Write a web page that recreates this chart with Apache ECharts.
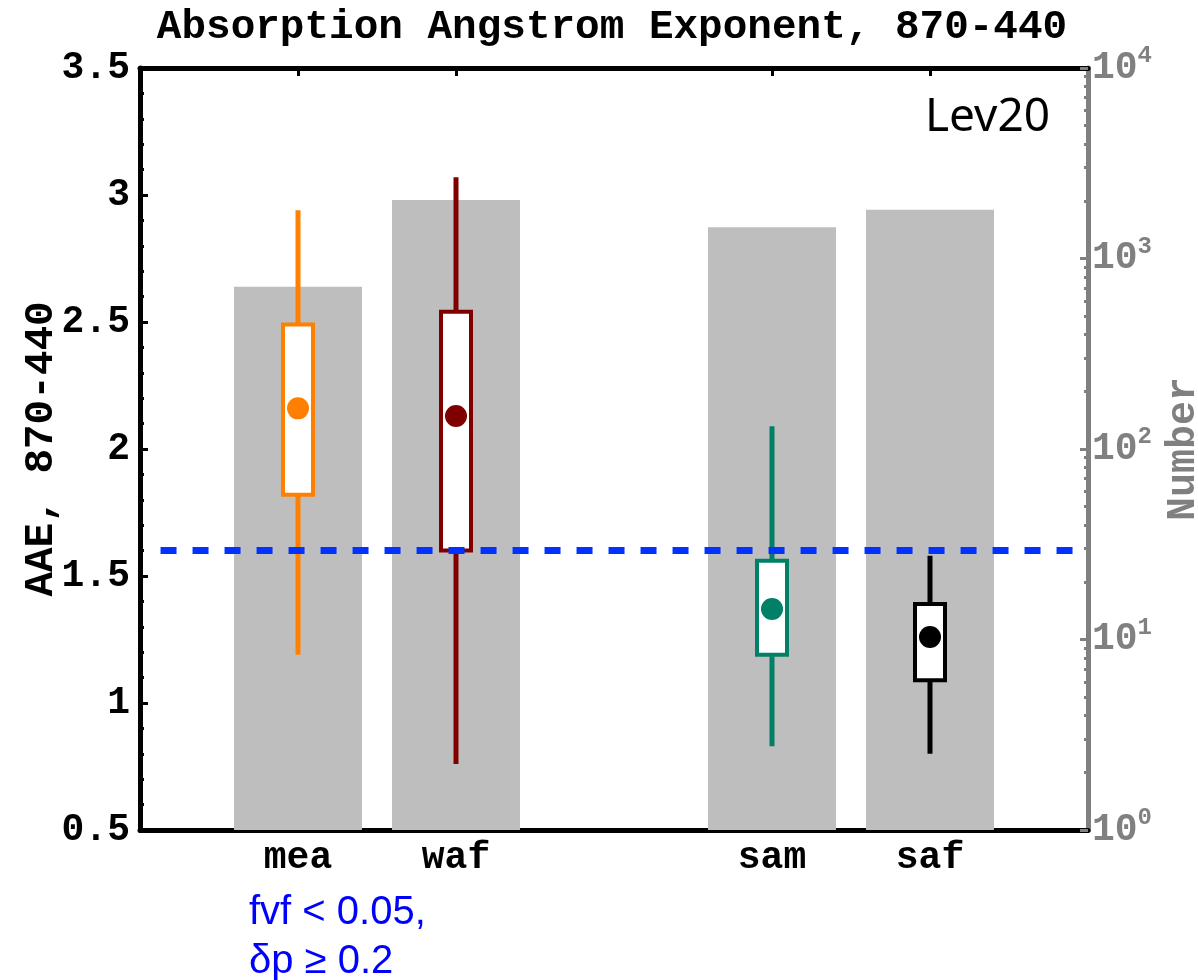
<!DOCTYPE html>
<html>
<head>
<meta charset="utf-8">
<script src="https://cdn.jsdelivr.net/npm/echarts@6/dist/echarts.min.js"></script>
<style>
html,body{margin:0;padding:0;background:#fff;}
#chart{width:1198px;height:980px;}
</style>
</head>
<body>
<div id="chart"></div>
<script>
// ---- data ----
var categories = ['', 'mea', 'waf', '', 'sam', 'saf', ''];
var counts = [null, 710, 2030, null, 1460, 1800, null];          // right axis (log)
var boxCats = [1, 2, 4, 5];                                        // category index of each box
var boxLow  = [1.19, 0.76, 0.83, 0.80];
var boxQ1   = [1.82, 1.60, 1.19, 1.09];
var boxQ3   = [2.49, 2.54, 1.56, 1.39];
var boxHigh = [2.94, 3.07, 2.09, 1.58];
var boxMean = [2.16, 2.13, 1.37, 1.26];
var boxColors = ['#ff8000', '#800000', '#008066', '#000000'];
var threshold = 1.6;
var thresholdX = [0.13, 5.95];
var leftTicks = [0.5, 3.5, 0.5];   // min, max, interval
var rightMajor = [1, 10, 100, 1000, 10000];
var rightMinor = [2,3,4,5,6,7,8,9,20,30,40,50,60,70,80,90,200,300,400,500,600,700,800,900,2000,3000,4000,5000,6000,7000,8000,9000];
var supDigits = {1:'0',10:'1',100:'2',1000:'3',10000:'4'};

var boxData = boxCats.map(function (c, i) {
  return [c, boxLow[i], boxQ1[i], boxQ3[i], boxHigh[i], boxMean[i]];
});

var MONO = "'Liberation Mono', 'Courier New', monospace";
var chart = echarts.init(document.getElementById('chart'));

var option = {
  animation: false,
  backgroundColor: '#fff',
  grid: { left: 140, right: 110, top: 68, bottom: 150, containLabel: false, outerBoundsMode: 'none' },
  xAxis: [
    {
      type: 'category', data: categories, boundaryGap: false, position: 'bottom',
      axisLine: { lineStyle: { color: '#000', width: 5 } },
      axisTick: { show: true, inside: true, length: 8, lineStyle: { color: '#000', width: 3 },
        interval: function (i, v) { return v !== ''; } },
      axisLabel: { color: '#000', fontFamily: MONO, fontWeight: 'bold', fontSize: 38, margin: 9, interval: 0 },
      splitLine: { show: false }
    },
    {
      type: 'category', data: categories, boundaryGap: false, position: 'top',
      axisLine: { lineStyle: { color: '#000', width: 5 } },
      axisTick: { show: true, inside: true, length: 8, lineStyle: { color: '#000', width: 3 },
        interval: function (i, v) { return v !== ''; } },
      axisLabel: { show: false },
      splitLine: { show: false }
    },
    {
      type: 'value', min: 0, max: 6, show: false
    }
  ],
  yAxis: [
    {
      type: 'value', min: leftTicks[0], max: leftTicks[1], interval: leftTicks[2], position: 'left',
      name: 'AAE, 870-440', nameLocation: 'middle', nameGap: 78, nameRotate: 90, nameMoveOverlap: false,
      nameTextStyle: { color: '#000', fontFamily: MONO, fontWeight: 'bold', fontSize: 41 },
      axisLine: { show: true, lineStyle: { color: '#000', width: 5 } },
      axisTick: { show: true, inside: true, length: 8, lineStyle: { color: '#000', width: 3 } },
      minorTick: { show: true, splitNumber: 5, length: 4, lineStyle: { color: '#000', width: 3 } },
      axisLabel: { color: '#000', fontFamily: MONO, fontWeight: 'bold', fontSize: 38, margin: 10 },
      splitLine: { show: false }, minorSplitLine: { show: false }
    },
    {
      type: 'log', logBase: 10, min: 1, max: 10000, position: 'right',
      name: 'Number', nameLocation: 'middle', nameGap: 76, nameRotate: 90, nameMoveOverlap: false,
      nameTextStyle: { color: '#808080', fontFamily: MONO, fontWeight: 'bold', fontSize: 40 },
      axisLine: { show: true, lineStyle: { color: '#808080', width: 5 } },
      axisTick: { show: true, inside: true, length: 8, lineStyle: { color: '#808080', width: 3 },
        customValues: rightMajor },
      axisLabel: {
        margin: 4, customValues: rightMajor,
        formatter: function (v) { return '{b|10}{s|' + supDigits[Math.round(v)] + '}'; },
        rich: {
          b: { color: '#808080', fontFamily: MONO, fontWeight: 'bold', fontSize: 38 },
          s: { color: '#808080', fontFamily: MONO, fontWeight: 'bold', fontSize: 24, verticalAlign: 'bottom', padding: [0, 0, 24, 0] }
        }
      },
      splitLine: { show: false }
    },
    {
      type: 'log', logBase: 10, min: 1, max: 10000, position: 'right',
      axisLine: { show: false },
      axisTick: { show: true, inside: true, length: 4, lineStyle: { color: '#808080', width: 3 },
        customValues: rightMinor },
      axisLabel: { show: false },
      splitLine: { show: false }
    }
  ],
  graphic: [
    { type: 'text', x: 612, y: 28, z: 100,
      style: { text: 'Absorption Angstrom Exponent, 870-440', fill: '#000', font: "bold 41px " + MONO,
        textAlign: 'center', textVerticalAlign: 'middle' } },
    { type: 'text', x: 1050, y: 118, z: 100,
      style: { text: 'Lev20', fill: '#000', font: "46px 'Comic Sans MS', 'Noto Sans', sans-serif",
        textAlign: 'right', textVerticalAlign: 'middle' } },
    { type: 'text', x: 249, y: 913, z: 100,
      style: { text: 'fvf < 0.05,', fill: '#0000ff', font: "40px 'Liberation Sans', Arial, sans-serif",
        textAlign: 'left', textVerticalAlign: 'middle' } },
    { type: 'text', x: 249, y: 962, z: 100,
      style: { text: 'δp ≥ 0.2', fill: '#0000ff', font: "40px 'Liberation Sans', Arial, sans-serif",
        textAlign: 'left', textVerticalAlign: 'middle' } }
  ],
  series: [
    {
      name: 'Number', type: 'bar', xAxisIndex: 0, yAxisIndex: 1,
      data: counts, barWidth: 128, itemStyle: { color: '#bebebe' }, z: 1
    },
    {
      name: 'AAE', type: 'custom', xAxisIndex: 0, yAxisIndex: 0, z: 3,
      data: boxData,
      encode: { x: 0, y: [1, 2, 3, 4, 5] },
      renderItem: function (params, api) {
        var c = boxColors[params.dataIndex];
        var x = api.value(0);
        var pLow = api.coord([x, api.value(1)]);
        var pQ1 = api.coord([x, api.value(2)]);
        var pQ3 = api.coord([x, api.value(3)]);
        var pHigh = api.coord([x, api.value(4)]);
        var pMean = api.coord([x, api.value(5)]);
        var hw = 15;
        return {
          type: 'group',
          children: [
            { type: 'line', shape: { x1: pLow[0], y1: pLow[1], x2: pHigh[0], y2: pHigh[1] },
              style: { stroke: c, lineWidth: 5 } },
            { type: 'rect', shape: { x: pQ3[0] - hw, y: pQ3[1], width: hw * 2, height: pQ1[1] - pQ3[1] },
              style: { fill: '#fff', stroke: c, lineWidth: 4 } },
            { type: 'circle', shape: { cx: pMean[0], cy: pMean[1], r: 11 },
              style: { fill: c } }
          ]
        };
      }
    },
    {
      name: 'threshold', type: 'line', xAxisIndex: 2, yAxisIndex: 0, z: 5,
      data: [[thresholdX[0], threshold], [thresholdX[1], threshold]],
      symbol: 'none', lineStyle: { color: '#0033ff', width: 7, type: [16, 16] }
    }
  ]
};
chart.setOption(option);
</script>
</body>
</html>
